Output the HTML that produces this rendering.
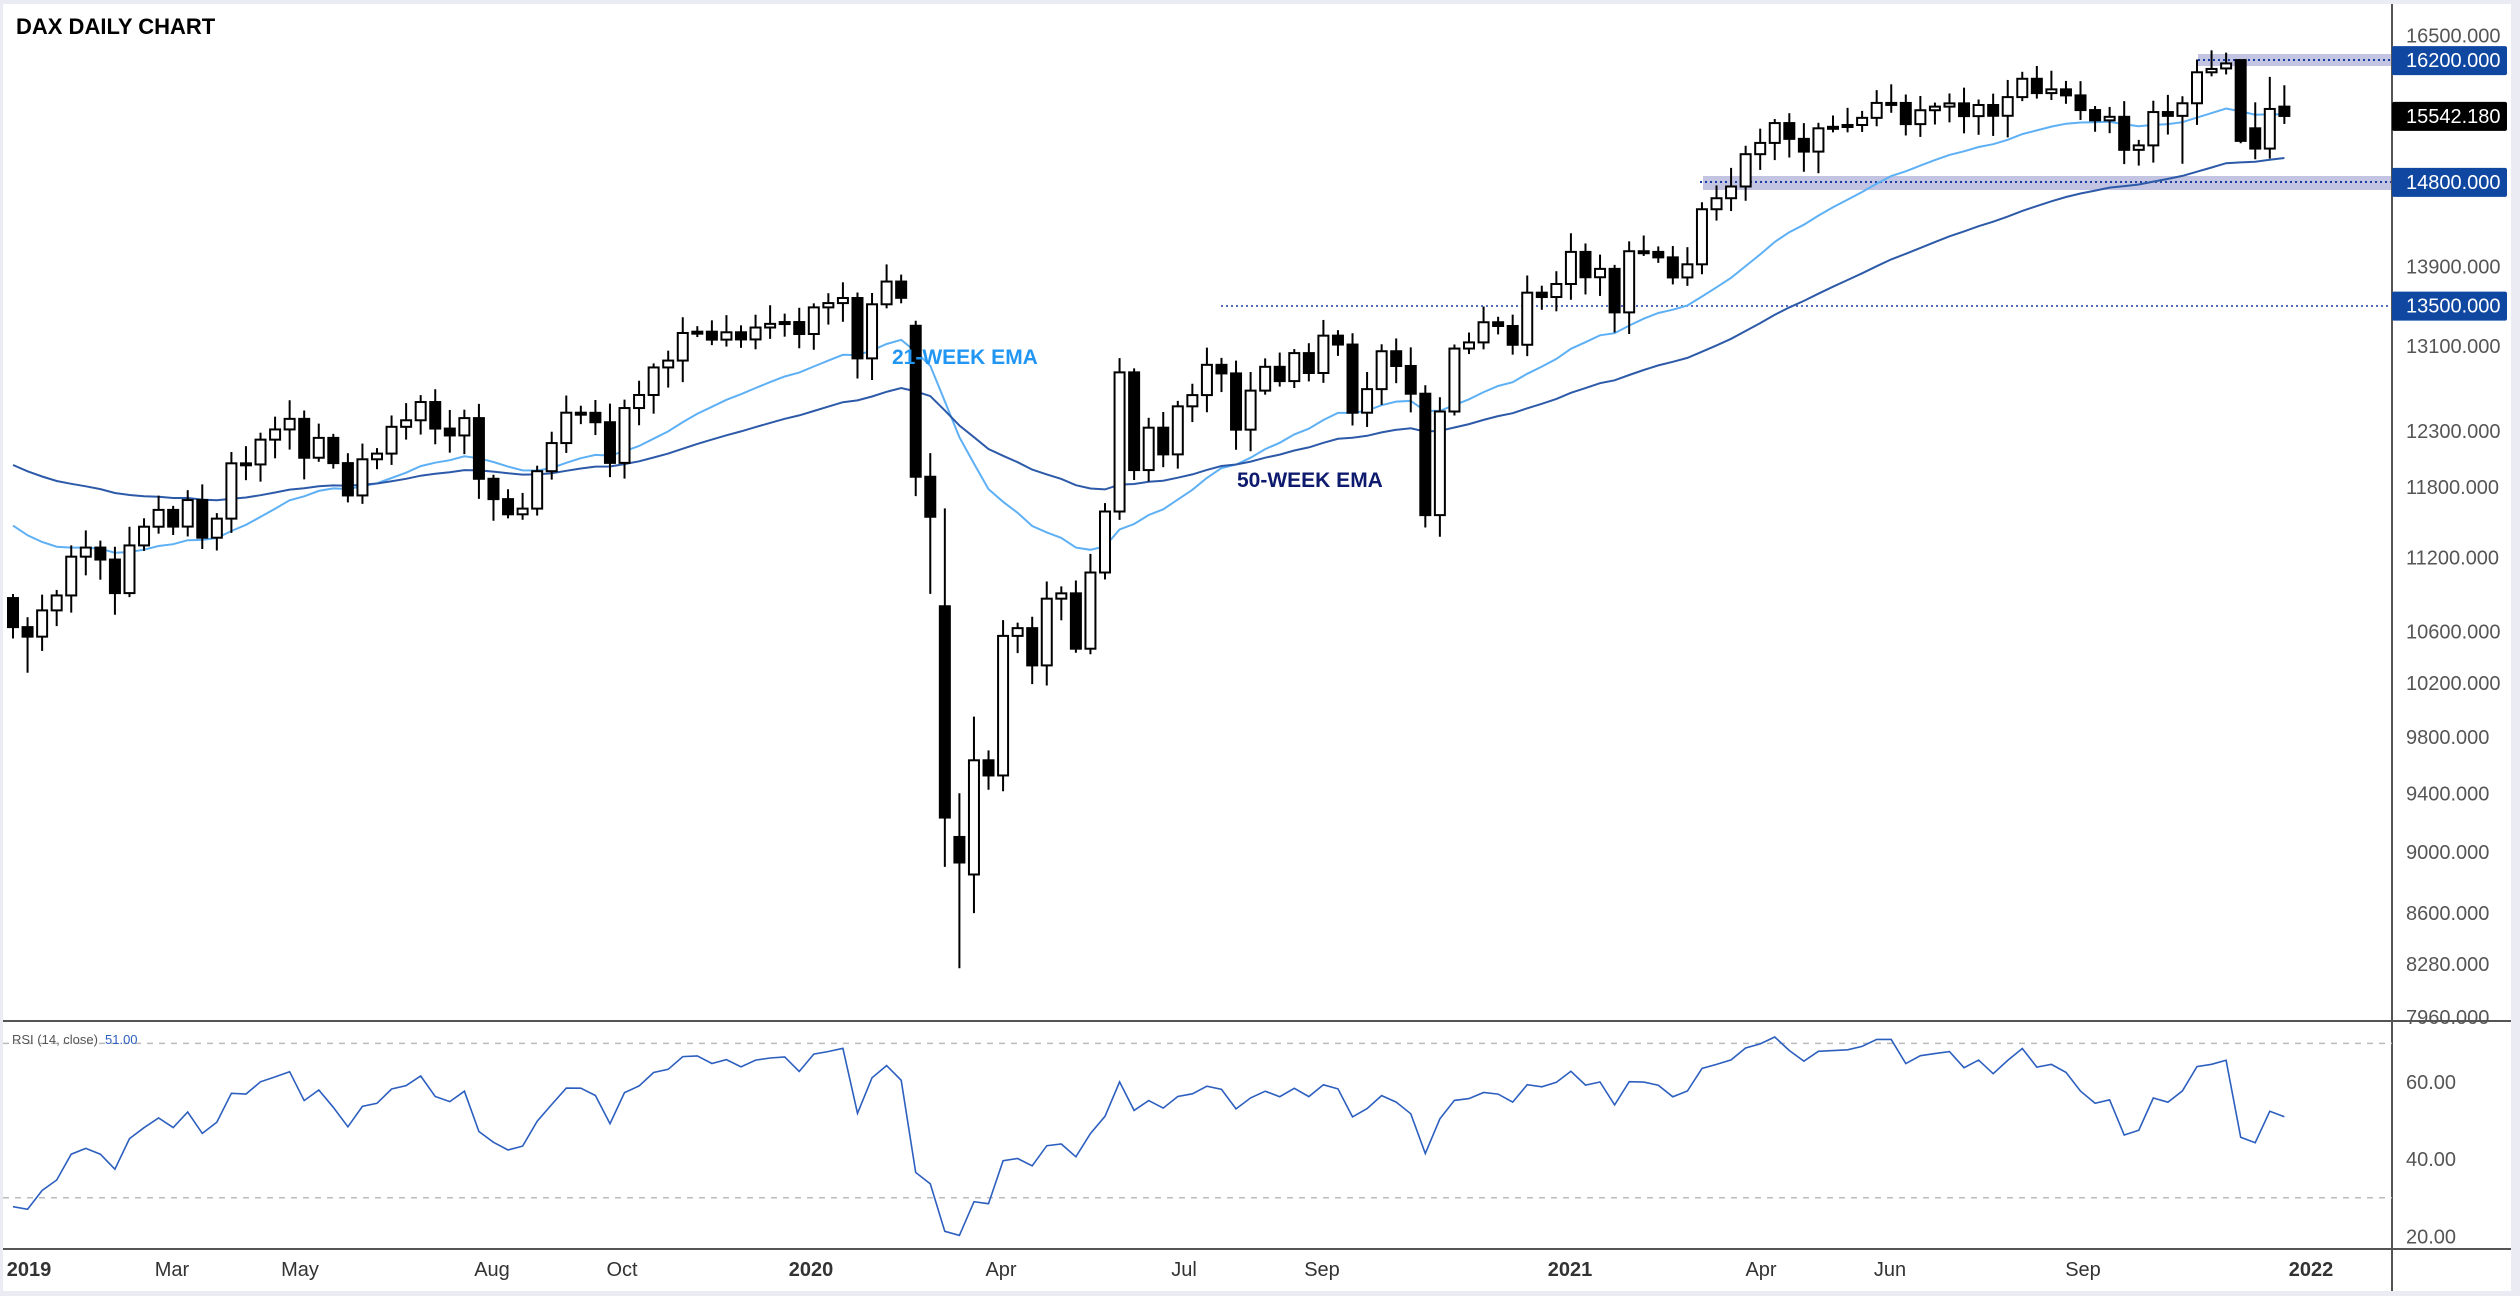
<!DOCTYPE html>
<html><head><meta charset="utf-8">
<style>
html,body{margin:0;padding:0;background:#fff;}
body{width:2520px;height:1296px;overflow:hidden;font-family:"Liberation Sans",sans-serif;}
svg text{font-family:"Liberation Sans",sans-serif;}
</style></head>
<body>
<svg id="s" width="2520" height="1296" xmlns="http://www.w3.org/2000/svg">
<rect x="0" y="0" width="2520" height="1296" fill="#fff"/>
<rect x="0" y="0" width="2520" height="4" fill="#ebebf3"/>
<rect x="2511" y="0" width="9" height="1296" fill="#ebebf3"/>
<rect x="0" y="1291" width="2520" height="5" fill="#ebebf3"/>
<rect x="0" y="0" width="3" height="1296" fill="#ebebf3"/>
<g id="g"></g>
</svg>
<script>
var closes=[10634,10559,
10767,10887,11205,11281,11181,10906,11299,11457,11601,11458,11686,11364,11526,12009,11999,12222,12315,12412,12059,12238,12011,11726,12045,12096,12339,12399,12568,12323,12260,12419,11872,11694,11563,11612,11939,12191,12469,12468,12381,12013,12512,12634,12895,12961,13229,13242,13164,13236,13166,13283,13319,13337,
13219,13483,13526,13577,12982,13514,13744,13579,11890,11542,9232,8929,9633,9525,10565,10626,10336,10861,10904,10465,11074,11587,12848,11949,12331,12089,12528,12633,12920,12838,12313,12675,12901,12765,13033,12842,13203,13116,12469,12689,13051,12909,12646,11556,12480,13077,13137,13335,13298,13114,13631,13587,13719,
14050,13788,13874,13433,14057,14050,13993,13786,13921,14502,14621,14749,15107,15234,15460,15280,15136,15400,15417,15438,15520,15693,15693,15448,15608,15650,15688,15540,15669,15544,15761,15977,15808,15852,15781,15610,15491,15532,15156,15206,15587,15543,15689,16054,16094,16160,15257,15170,15623,15542];
var N=closes.length, X0=13, DX=14.56;
function xi(i){return X0+i*DX;}
function yp(p){return 35.4+(9.7111-Math.log(p))*1347;}
function yr(v){return 1082+(60-v)*3.86;}
var opens=[],hi=[],lo=[];
for(var i=0;i<N;i++){
 var o=i==0?10866:closes[i-1];
 opens.push(o);
 var a=((i*37)%11)/11, b=((i*53+5)%13)/13;
 hi.push(Math.max(o,closes[i])*(1+0.003+0.012*a));
 lo.push(Math.min(o,closes[i])*(1-0.003-0.014*b));
}
function set(i,o,h,l){if(o!=null)opens[i]=o;if(h!=null)hi[i]=h;if(l!=null)lo[i]=l;}
set(1,null,null,10280);
set(62,13300,13350,11720);set(63,null,12100,10900);
set(64,10800,null,8900);set(65,9100,9400,8255);set(66,8850,9950,8600);
set(97,null,null,11450);
set(152,16100,16290,null);set(153,16200,16200,15230);
set(154,15400,15700,15050);set(155,15170,16000,null);set(156,15650,15900,15450);
set(149,null,null,15000);
var g='';
// zones
g+='<rect x="2198" y="54" width="193" height="12" fill="#c3c4e2"/>';
g+='<line x1="2198" y1="60" x2="2391" y2="60" stroke="#1a3fa0" stroke-width="2" stroke-dasharray="2,3"/>';
g+='<rect x="1703" y="176" width="688" height="14" fill="#c3c4e2"/>';
g+='<line x1="1700" y1="182" x2="2391" y2="182" stroke="#1a3fa0" stroke-width="2" stroke-dasharray="2,3"/>';
g+='<line x1="1221" y1="306" x2="2391" y2="306" stroke="#1a3fa0" stroke-width="1.5" stroke-dasharray="2,3"/>';
// EMAs
function ema(n,seed){var k=2/(n+1),e=seed,r=[];for(var i=0;i<N;i++){e=closes[i]*k+e*(1-k);r.push(e);}return r;}
var e21=ema(21,11550),e50=ema(50,12050);
function pl(arr,col,w){var d='';for(var i=0;i<N;i++)d+=(i?'L':'M')+xi(i).toFixed(1)+','+yp(arr[i]).toFixed(1);return '<path d="'+d+'" fill="none" stroke="'+col+'" stroke-width="'+w+'"/>';}
g+=pl(e21,'#5eb0f5',2);
g+=pl(e50,'#2d5aa8',2);
// candles
for(var i=0;i<N;i++){
 var x=xi(i),o=opens[i],c=closes[i];
 var up=c>=o;
 var yt=yp(Math.max(o,c)),yb=yp(Math.min(o,c));
 if(yb-yt<2){yb=yt+2;}
 g+='<line x1="'+x+'" y1="'+yp(hi[i])+'" x2="'+x+'" y2="'+yp(lo[i])+'" stroke="#000" stroke-width="2"/>';
 g+='<rect x="'+(x-5)+'" y="'+yt+'" width="10" height="'+(yb-yt)+'" fill="'+(up?'#fff':'#000')+'" stroke="#000" stroke-width="2"/>';
}
g+='<text x="892" y="364" font-size="21" font-weight="bold" fill="#2196f3">21-WEEK EMA</text>';
g+='<text x="1237" y="487" font-size="21" font-weight="bold" fill="#0d1a6e">50-WEEK EMA</text>';
g+='<text x="16" y="34" font-size="22" font-weight="bold" fill="#000">DAX DAILY CHART</text>';
// axes
g+='<line x1="2392" y1="4" x2="2392" y2="1291" stroke="#555" stroke-width="2"/>';
g+='<line x1="3" y1="1021" x2="2511" y2="1021" stroke="#555" stroke-width="2"/>';
g+='<line x1="3" y1="1249" x2="2511" y2="1249" stroke="#555" stroke-width="2"/>';
var ticks=[16500,13900,13100,12300,11800,11200,10600,10200,9800,9400,9000,8600,8280,7960];
ticks.forEach(function(t){g+='<text x="2406" y="'+(yp(t)+7)+'" font-size="20" fill="#555">'+t+'.000</text>';});
function box(p,txt,col){var y=yp(p);g+='<rect x="2392" y="'+(y-14)+'" width="115" height="29" rx="2" fill="'+col+'"/><text x="2406" y="'+(y+7)+'" font-size="20" fill="#fff">'+txt+'</text>';}
box(16200,'16200.000','#0f47a1');box(15542.18,'15542.180','#000');box(14800,'14800.000','#0f47a1');box(13500,'13500.000','#0f47a1');
// RSI
g+='<line x1="3" y1="'+yr(70)+'" x2="2392" y2="'+yr(70)+'" stroke="#bbb" stroke-width="1.5" stroke-dasharray="6,6"/>';
g+='<line x1="3" y1="'+yr(30)+'" x2="2392" y2="'+yr(30)+'" stroke="#bbb" stroke-width="1.5" stroke-dasharray="6,6"/>';
[60,40,20].forEach(function(v){g+='<text x="2406" y="'+(yr(v)+7)+'" font-size="20" fill="#555">'+v+'.00</text>';});
var ag=70,al=165,rsi=[];
for(var i=0;i<N;i++){var ch=i==0?closes[0]-10866:closes[i]-closes[i-1];var gg=Math.max(ch,0),ll=Math.max(-ch,0);ag=(ag*13+gg)/14;al=(al*13+ll)/14;rsi.push(100-100/(1+ag/al));}
var d='';for(var i=0;i<N;i++)d+=(i?'L':'M')+xi(i).toFixed(1)+','+yr(rsi[i]).toFixed(1);
g+='<path d="'+d+'" fill="none" stroke="#2d5fbf" stroke-width="1.6"/>';
g+='<text x="12" y="1044" font-size="13" fill="#555">RSI (14, close)</text><text x="105" y="1044" font-size="13" fill="#2d5fbf">51.00</text>';
// time labels
var tl=[['2019',29,1],['Mar',172],['May',300],['Aug',492],['Oct',622],['2020',811,1],['Apr',1001],['Jul',1184],['Sep',1322],['2021',1570,1],['Apr',1761],['Jun',1890],['Sep',2083],['2022',2311,1]];
tl.forEach(function(t){g+='<text x="'+t[1]+'" y="1276" font-size="20" text-anchor="middle" fill="#333"'+(t[2]?' font-weight="bold"':'')+'>'+t[0]+'</text>';});
document.getElementById('g').innerHTML=g;
</script>
</body></html>
